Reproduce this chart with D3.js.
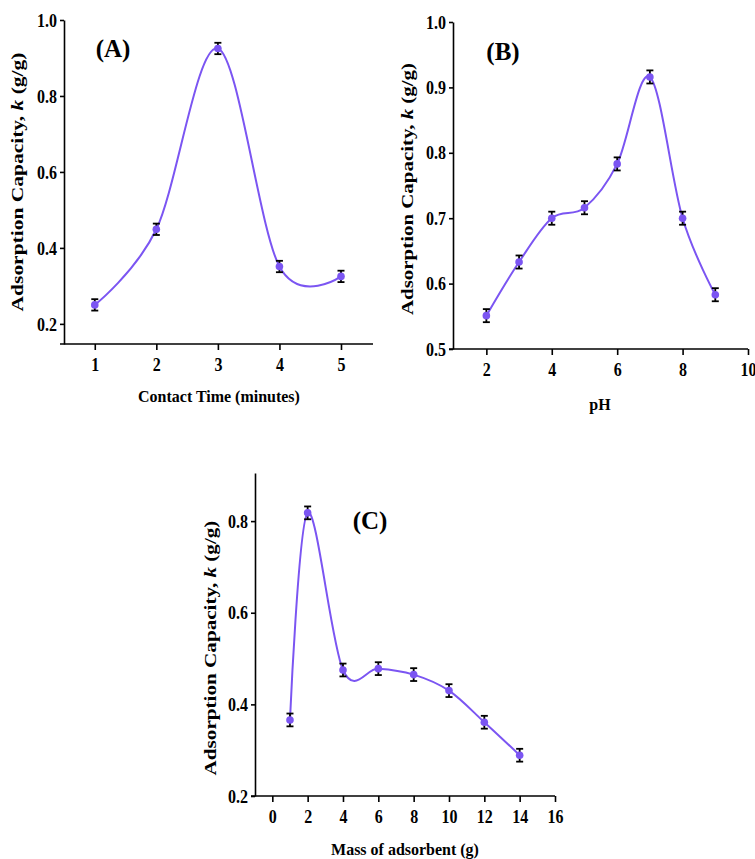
<!DOCTYPE html>
<html>
<head>
<meta charset="utf-8">
<script src="https://cdn.jsdelivr.net/npm/d3@7"></script>
<style>
  body { margin: 0; background: #fff; }
  svg { display: block; }
  .tick text { font-family: "Liberation Serif", "Times New Roman", serif; font-weight: bold; font-size: 16px; fill: #000; }
  .axis path, .axis line { stroke: #000; stroke-width: 1.6px; }
  .label { font-family: "Liberation Serif", "Times New Roman", serif; font-weight: bold; fill: #000; }
</style>
</head>
<body>
<div id="chart"></div>
<script>
// Panel A: contact time
var timeX = [1, 2, 3, 4, 5];
var timeK = [0.250, 0.449, 0.925, 0.351, 0.325];
var timeErr = [0.015, 0.015, 0.015, 0.015, 0.015];
var timeXTicks = [1, 2, 3, 4, 5];
var timeYTicks = [0.2, 0.4, 0.6, 0.8, 1.0];

// Panel B: pH
var phX = [2, 3, 4, 5, 6, 7, 8, 9];
var phK = [0.551, 0.633, 0.700, 0.716, 0.783, 0.916, 0.700, 0.583];
var phErr = [0.010, 0.010, 0.010, 0.010, 0.010, 0.010, 0.010, 0.010];
var phXTicks = [2, 4, 6, 8, 10];
var phYTicks = [0.5, 0.6, 0.7, 0.8, 0.9, 1.0];

// Panel C: mass of adsorbent
var massX = [1, 2, 4, 6, 8, 10, 12, 14];
var massK = [0.366, 0.818, 0.475, 0.478, 0.465, 0.430, 0.361, 0.289];
var massErr = [0.014, 0.014, 0.014, 0.014, 0.014, 0.014, 0.014, 0.014];
var massXTicks = [0, 2, 4, 6, 8, 10, 12, 14, 16];
var massYTicks = [0.2, 0.4, 0.6, 0.8];

var lineColor = '#7b55f2';

var svg = d3.select('#chart').append('svg')
    .attr('width', 755)
    .attr('height', 859);

function drawPanel(p) {
    var x = d3.scaleLinear().domain(p.xDomain).range([p.left, p.right]);
    var y = d3.scaleLinear().domain(p.yDomain).range([p.bottom, p.top]);
    var g = svg.append('g');

    // Axes (text is drawn a bit taller than wide, like the source image)
    var xAxis = g.append('g')
        .attr('class', 'axis')
        .attr('transform', 'translate(0,' + p.bottom + ')')
        .call(d3.axisBottom(x).tickValues(p.xTicks).tickSize(6).tickSizeOuter(0).tickPadding(5).tickFormat(d3.format('d')));
    xAxis.select('.domain').attr('d', 'M' + (p.left - 4) + ',0H' + p.right);
    xAxis.selectAll('.tick text').attr('transform', 'scale(1,1.2)');

    var yAxis = g.append('g')
        .attr('class', 'axis')
        .attr('transform', 'translate(' + p.left + ',0)')
        .call(d3.axisLeft(y).tickValues(p.yTicks).tickSize(4).tickSizeOuter(0).tickPadding(3).tickFormat(d3.format('.1f')));
    yAxis.selectAll('.tick text').attr('transform', 'scale(1,1.2)');

    var pts = p.xs.map(function(d, i) { return {x: d, k: p.ks[i], e: p.errs[i]}; });

    // Smoothed line through the points
    var line = d3.line()
        .x(function(d) { return x(d.x); })
        .y(function(d) { return y(d.k); })
        .curve(d3.curveCatmullRom.alpha(0));

    g.append('path')
        .datum(pts)
        .attr('d', line)
        .attr('fill', 'none')
        .attr('stroke', lineColor)
        .attr('stroke-width', 2);

    // Error bars
    var eb = g.selectAll('.err')
        .data(pts)
        .enter().append('g')
        .attr('class', 'err')
        .attr('stroke', '#000')
        .attr('stroke-width', 1.8);
    eb.append('line')
        .attr('x1', function(d) { return x(d.x); })
        .attr('x2', function(d) { return x(d.x); })
        .attr('y1', function(d) { return y(d.k - d.e); })
        .attr('y2', function(d) { return y(d.k + d.e); });
    eb.append('line')
        .attr('x1', function(d) { return x(d.x) - 3.5; })
        .attr('x2', function(d) { return x(d.x) + 3.5; })
        .attr('y1', function(d) { return y(d.k + d.e); })
        .attr('y2', function(d) { return y(d.k + d.e); });
    eb.append('line')
        .attr('x1', function(d) { return x(d.x) - 3.5; })
        .attr('x2', function(d) { return x(d.x) + 3.5; })
        .attr('y1', function(d) { return y(d.k - d.e); })
        .attr('y2', function(d) { return y(d.k - d.e); });

    // Markers on top of the bars
    g.selectAll('circle')
        .data(pts)
        .enter().append('circle')
        .attr('cx', function(d) { return x(d.x); })
        .attr('cy', function(d) { return y(d.k); })
        .attr('r', 3.8)
        .attr('fill', lineColor);

    // Panel letter
    g.append('text')
        .attr('class', 'label')
        .attr('x', p.titleX)
        .attr('y', p.titleY)
        .attr('text-anchor', 'middle')
        .attr('font-size', 25)
        .text(p.title);

    // X axis title
    g.append('text')
        .attr('class', 'label')
        .attr('x', p.xLabelX)
        .attr('y', p.xLabelY)
        .attr('text-anchor', 'middle')
        .attr('font-size', 16)
        .attr('transform', 'translate(0,' + (-0.1 * p.xLabelY) + ') scale(1,1.1)')
        .text(p.xLabel);

    // Y axis title, stretched along its length to the source size
    var yt = g.append('text')
        .attr('class', 'label')
        .attr('text-anchor', 'middle')
        .attr('font-size', 17);
    yt.append('tspan').text('Adsorption Capacity, ');
    yt.append('tspan').attr('font-style', 'italic').text('k');
    yt.append('tspan').text(' (g/g)');
    var natural = yt.node().getComputedTextLength();
    yt.attr('transform', 'translate(' + p.yLabelX + ',' + p.yLabelY + ') rotate(-90) scale(' + (p.yLabelLen / natural) + ',1)');
}

drawPanel({
    xs: timeX, ks: timeK, errs: timeErr, xTicks: timeXTicks, yTicks: timeYTicks,
    xDomain: [0.5, 5.52], yDomain: [0.147, 1.0],
    left: 64, right: 373, top: 20, bottom: 344,
    title: '(A)', titleX: 113, titleY: 57,
    xLabel: 'Contact Time (minutes)', xLabelX: 219, xLabelY: 402,
    yLabelX: 23, yLabelY: 182, yLabelLen: 259
});

drawPanel({
    xs: phX, ks: phK, errs: phErr, xTicks: phXTicks, yTicks: phYTicks,
    xDomain: [0.98, 10], yDomain: [0.5, 1.0],
    left: 453, right: 748, top: 22, bottom: 349,
    title: '(B)', titleX: 503, titleY: 60,
    xLabel: 'pH', xLabelX: 600, xLabelY: 410,
    yLabelX: 413, yLabelY: 189, yLabelLen: 252
});

drawPanel({
    xs: massX, ks: massK, errs: massErr, xTicks: massXTicks, yTicks: massYTicks,
    xDomain: [-0.98, 16], yDomain: [0.2, 0.905],
    left: 255, right: 555, top: 473, bottom: 796,
    title: '(C)', titleX: 370, titleY: 529,
    xLabel: 'Mass of adsorbent (g)', xLabelX: 405, xLabelY: 855,
    yLabelX: 216, yLabelY: 648, yLabelLen: 255
});
</script>
</body>
</html>
